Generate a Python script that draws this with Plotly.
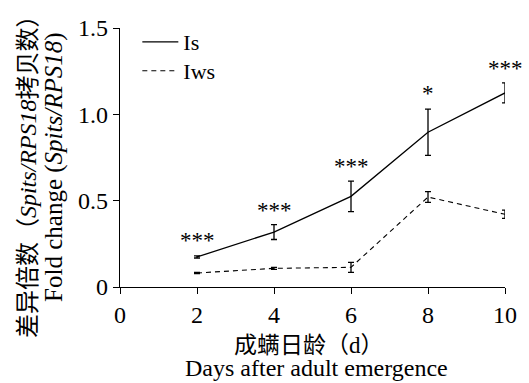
import plotly.graph_objects as go

days = [2, 4, 6, 8, 10]
is_vals = [0.174, 0.318, 0.525, 0.896, 1.124]
is_err = [0.006, 0.043, 0.088, 0.134, 0.058]
iws_vals = [0.081, 0.108, 0.114, 0.521, 0.421]
iws_err = [0.004, 0.006, 0.029, 0.031, 0.024]
sig_labels = ["***", "***", "***", "*", "***"]
sig_y = [0.27, 0.442, 0.699, 1.118, 1.264]

x_ticks = [0, 2, 4, 6, 8, 10]
y_ticks = [0, 0.5, 1.0, 1.5]
y_ticktext = ["0", "0.5", "1.0", "1.5"]

SERIF = "Liberation Serif, Noto Sans CJK SC, serif"

fig = go.Figure()
fig.add_trace(go.Scatter(
    x=days, y=is_vals, mode="lines", name="Is", legend="legend",
    line=dict(color="black", width=1.3),
    error_y=dict(type="data", array=is_err, visible=True, color="black", thickness=1.3, width=3),
))
fig.add_trace(go.Scatter(
    x=days, y=iws_vals, mode="lines", name="Iws", legend="legend2",
    line=dict(color="black", width=1.1, dash="5px,4px"),
    error_y=dict(type="data", array=iws_err, visible=True, color="black", thickness=1.3, width=3),
))

for xd, yv, lab in zip(days, sig_y, sig_labels):
    fig.add_annotation(x=xd, y=yv, text=lab, showarrow=False,
                       font=dict(family=SERIF, size=23, color="black"),
                       xanchor="center", yanchor="middle")

# axis titles
fig.add_annotation(xref="paper", yref="paper", x=-0.240, y=0.5, yshift=-13,
                   xanchor="center", yanchor="middle",
                   text="差异倍数（<i>Spits/RPS18</i>拷贝数）",
                   textangle=-90, showarrow=False,
                   font=dict(family=SERIF, size=24, color="black"))
fig.add_annotation(xref="paper", yref="paper", x=-0.173, y=0.5, yshift=-10,
                   xanchor="center", yanchor="middle",
                   text="Fold change (<i>Spits/RPS18</i>)",
                   textangle=-90, showarrow=False,
                   font=dict(family=SERIF, size=25, color="black"))
fig.add_annotation(xref="paper", yref="paper", x=0.49, y=0, yshift=-58,
                   xanchor="center", yanchor="middle",
                   text="成螨日龄（d）", showarrow=False,
                   font=dict(family=SERIF, size=23, color="black"))
fig.add_annotation(xref="paper", yref="paper", x=0.51, y=0, yshift=-81,
                   xanchor="center", yanchor="middle",
                   text="Days after adult emergence", showarrow=False,
                   font=dict(family=SERIF, size=24, color="black"))

leg_common = dict(xanchor="left", yanchor="middle", bgcolor="rgba(0,0,0,0)",
                  font=dict(family=SERIF, size=22, color="black"), itemwidth=36)

fig.update_layout(
    width=529, height=383,
    margin=dict(l=120, r=21, t=28, b=96),
    plot_bgcolor="white", paper_bgcolor="white",
    font=dict(family=SERIF, size=24, color="black"),
    showlegend=True,
    legend=dict(x=0.045, y=0.946, **leg_common),
    legend2=dict(x=0.045, y=0.834, **leg_common),
    xaxis=dict(range=[0, 10], tickvals=x_ticks, showline=True, linecolor="black", linewidth=1.3,
               ticks="outside", ticklen=6, tickcolor="black", tickwidth=1.3,
               showgrid=False, zeroline=False, tickfont=dict(family=SERIF, size=24)),
    yaxis=dict(range=[0, 1.5], tickvals=y_ticks, ticktext=y_ticktext, showline=True,
               linecolor="black", linewidth=1.3, ticks="outside", ticklen=6,
               tickcolor="black", tickwidth=1.3, showgrid=False, zeroline=False,
               tickfont=dict(family=SERIF, size=24)),
)

fig.write_html("out.html")
